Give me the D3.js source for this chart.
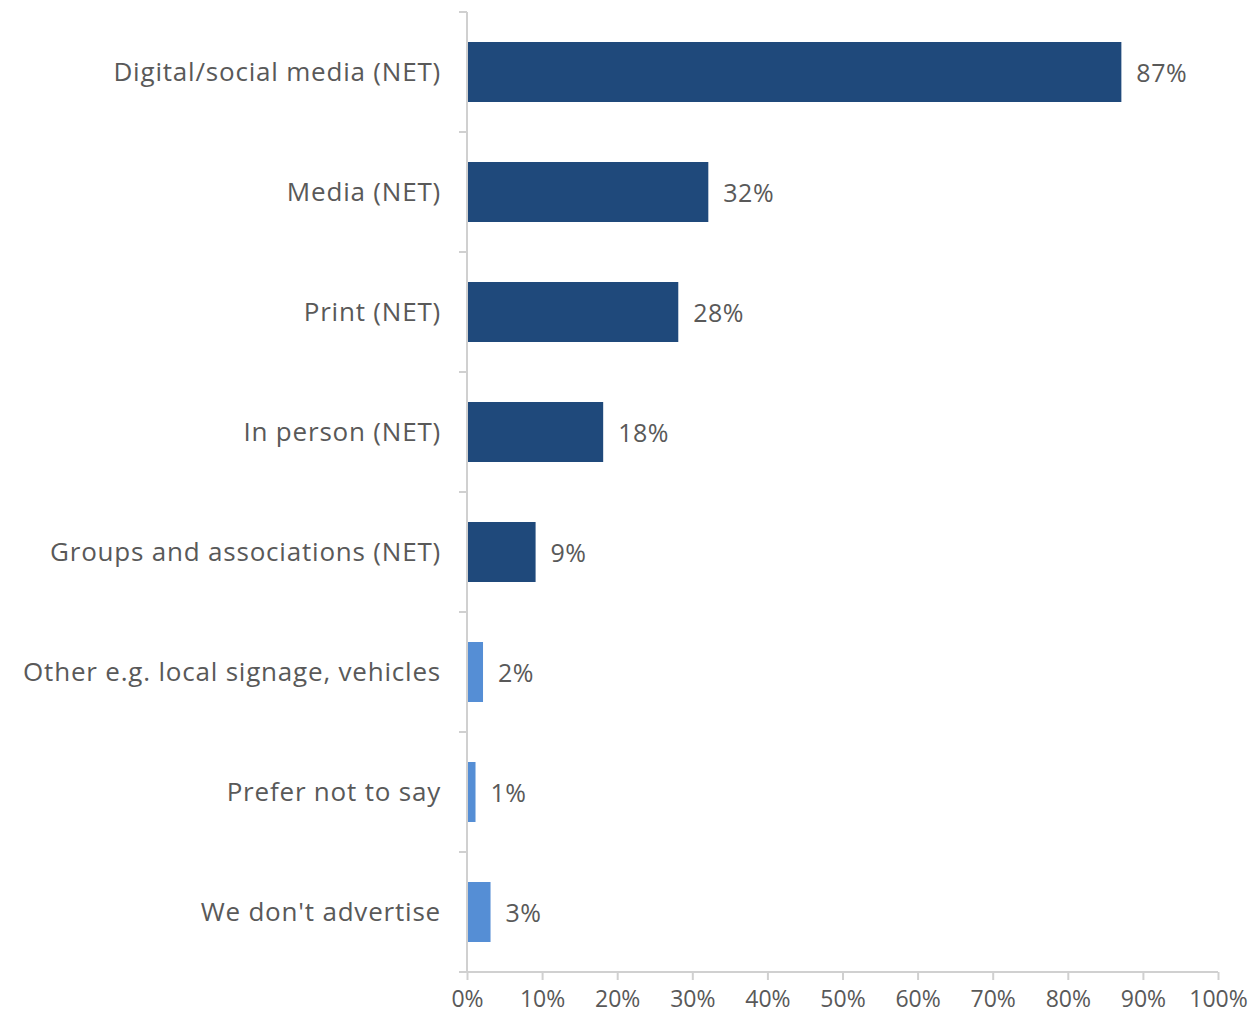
<!DOCTYPE html>
<html>
<head>
<meta charset="utf-8">
<script src="https://cdn.jsdelivr.net/npm/d3@7"></script>
<style>
  html, body { margin: 0; padding: 0; background: #fff; }
  svg text { font-family: "Open Sans", "DejaVu Sans", sans-serif; fill: #595959; }
</style>
</head>
<body>
<svg id="chart" width="1252" height="1013"></svg>
<script>
// Advertising channels, share of respondents
const categories = [
  "Digital/social media (NET)",
  "Media (NET)",
  "Print (NET)",
  "In person (NET)",
  "Groups and associations (NET)",
  "Other e.g. local signage, vehicles",
  "Prefer not to say",
  "We don't advertise"
];
const values = [87, 32, 28, 18, 9, 2, 1, 3];
const isNet = [true, true, true, true, true, false, false, false];
const xTicks = [0, 10, 20, 30, 40, 50, 60, 70, 80, 90, 100];

const margin = { top: 12, right: 34, bottom: 41, left: 467 };
const width = 1252 - margin.left - margin.right;
const height = 1013 - margin.top - margin.bottom;

const svg = d3.select("#chart");
const g = svg.append("g").attr("transform", `translate(${margin.left},${margin.top})`);

const x = d3.scaleLinear().domain([0, 100]).range([0, width]);
const y = d3.scaleBand().domain(categories).range([0, height]).paddingInner(0.5).paddingOuter(0.25);

const axisColor = "#d0d0d0";

// bars
g.selectAll("rect.bar")
  .data(categories)
  .join("rect")
  .attr("class", "bar")
  .attr("x", x(0) + 1)
  .attr("y", d => y(d))
  .attr("width", (d, i) => x(values[i]) - x(0))
  .attr("height", y.bandwidth())
  .attr("fill", (d, i) => isNet[i] ? "#1F497B" : "#558ED5");

// value labels
g.selectAll("text.val")
  .data(categories)
  .join("text")
  .attr("class", "val")
  .attr("x", (d, i) => x(values[i]) + 16)
  .attr("y", d => y(d) + y.bandwidth() / 2)
  .attr("dy", "0.38em")
  .attr("font-size", 25)
  .attr("letter-spacing", 0.5)
  .text((d, i) => values[i] + "%");

// bottom axis
const xAxis = d3.axisBottom(x)
  .tickValues(xTicks)
  .tickFormat(d => d + "%")
  .tickSize(8)
  .tickSizeOuter(0)
  .tickPadding(11);
const gx = g.append("g").attr("transform", `translate(0,${height})`).call(xAxis);
gx.select(".domain").attr("stroke", axisColor).attr("stroke-width", 2)
  .attr("d", `M${-8},0H${width}`);
gx.selectAll(".tick line").attr("stroke", axisColor).attr("stroke-width", 2);
gx.selectAll(".tick text").attr("font-size", 23).attr("fill", "#595959")
  .style("font-family", "'Open Sans', 'DejaVu Sans', sans-serif");

// left category axis: boundaries between bands get tick marks
const boundaries = d3.range(categories.length + 1).map(i => i * y.step());
const gy = g.append("g");
gy.append("line")
  .attr("x1", 0).attr("x2", 0)
  .attr("y1", 0).attr("y2", height)
  .attr("stroke", axisColor).attr("stroke-width", 2);
gy.selectAll("line.tk")
  .data(boundaries)
  .join("line")
  .attr("class", "tk")
  .attr("x1", -8).attr("x2", 0)
  .attr("y1", d => d).attr("y2", d => d)
  .attr("stroke", axisColor).attr("stroke-width", 2);

// category labels
gy.selectAll("text.cat")
  .data(categories)
  .join("text")
  .attr("class", "cat")
  .attr("x", -26)
  .attr("y", d => y(d) + y.bandwidth() / 2)
  .attr("dy", "0.36em")
  .attr("text-anchor", "end")
  .attr("font-size", 26)
  .attr("letter-spacing", 0.8)
  .text(d => d);
</script>
</body>
</html>
